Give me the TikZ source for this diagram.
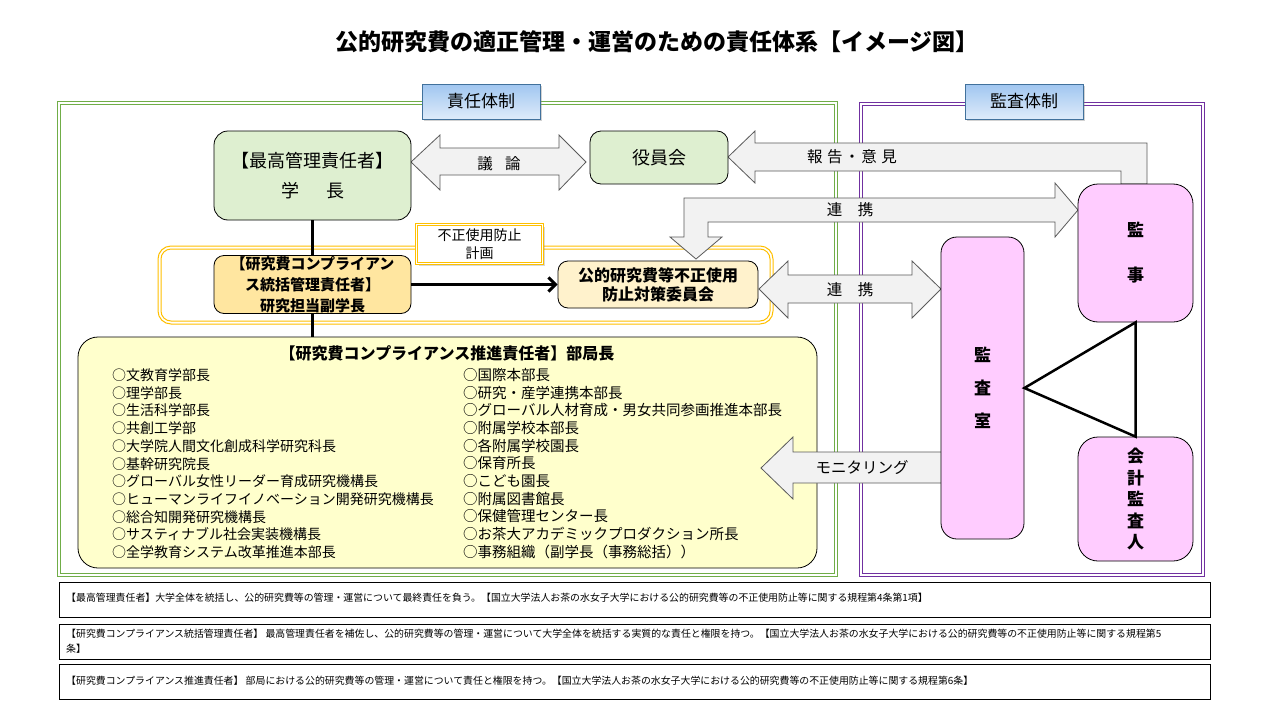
\documentclass[tikz,border=0pt]{standalone}
\usepackage{fontspec}
\setmainfont{Noto Sans CJK JP}
\usetikzlibrary{arrows.meta,shadows,calc}
\definecolor{frgreen}{RGB}{112,173,71}
\definecolor{frpurple}{RGB}{112,48,160}
\definecolor{fryellow}{RGB}{255,192,0}
\definecolor{boxgreen}{RGB}{222,239,208}
\definecolor{boxorange}{RGB}{255,230,160}
\definecolor{boxcream}{RGB}{255,242,204}
\definecolor{boxyellow}{RGB}{255,255,204}
\definecolor{boxpink}{RGB}{255,204,255}
\definecolor{arrfill}{RGB}{242,242,242}
\definecolor{arrline}{RGB}{90,90,90}
\definecolor{tagline}{RGB}{65,113,156}
\definecolor{tagtop}{RGB}{160,198,240}
\definecolor{tagbot}{RGB}{222,235,250}
\begin{document}
\begin{tikzpicture}[x=1pt,y=-1pt,
  box/.style={draw=black, line width=0.8pt, rounded corners=14pt, inner sep=0pt, align=center},
  blockarrow/.style={draw=arrline, fill=arrfill, line width=0.8pt},
  tagbox/.style={draw=tagline, line width=1pt, top color=tagtop, bottom color=tagbot,
     minimum width=118pt, minimum height=35pt, inner sep=0pt,
     font=\fontsize{17}{20}\selectfont,
     drop shadow={shadow xshift=2pt, shadow yshift=-2pt, opacity=0.35}},
  conn/.style={line width=2.5pt, draw=black},
  arrtext/.style={font=\fontsize{15.5}{18}\selectfont, inner sep=0pt},
  note/.style={draw=black, line width=0.8pt},
  notetext/.style={anchor=west, inner sep=0pt, font=\fontsize{9.9}{15}\selectfont, align=left},
  listtext/.style={anchor=north west, inner sep=0pt, align=left, font=\fontsize{14.5}{17.7}\selectfont}
]
\useasboundingbox (0,0) rectangle (1280,720);
\fill[white] (0,0) rectangle (1280,720);

% title
\node[font=\fontsize{23}{26}\selectfont\bfseries, inner sep=0pt] (title) at (657,42) {公的研究費の適正管理・運営のための責任体系【イメージ図】};

% frames (double lines)
\draw[frgreen, line width=1pt] (57,101) rectangle (837,576);
\draw[frgreen, line width=1pt] (60,104) rectangle (834,573);
\draw[frpurple, line width=1pt] (859,102) rectangle (1204,576);
\draw[frpurple, line width=1pt] (862,105) rectangle (1201,573);

\node[tagbox] (tag1) at (481,101.5) {責任体制};
\node[tagbox] (tag2) at (1024,101.5) {監査体制};

% plan frame (yellow double)
\draw[fryellow, line width=1pt, rounded corners=13pt] (158,246) rectangle (773,324);
\draw[fryellow, line width=1pt, rounded corners=10pt] (161,249) rectangle (770,321);

% block arrows
\draw[blockarrow] (411,162) -- (440,135) -- (440,148) -- (559,148) -- (559,135) -- (586,162)
   -- (559,190) -- (559,175) -- (440,175) -- (440,190) -- cycle;
\node[arrtext] (t1) at (499,164) {議\hspace{0.8em}論};

\draw[blockarrow] (728,157) -- (755,131) -- (755,143) -- (1147,143) -- (1147,184) -- (1121,184)
   -- (1121,171) -- (755,171) -- (755,183) -- cycle;
\node[arrtext] (t2) at (852,157) {報\hspace{0.3em}告\hspace{0.1em}・\hspace{0.1em}意\hspace{0.3em}見};

\draw[blockarrow] (684,237) -- (684,198) -- (1055,198) -- (1055,183) -- (1078,210) -- (1055,237)
   -- (1055,222) -- (708,222) -- (708,237) -- (722,237) -- (696,259) -- (670,237) -- cycle;
\node[arrtext] (t3) at (850,210) {連\hspace{1em}携};

\draw[blockarrow] (759,289) -- (788,261) -- (788,275) -- (912,275) -- (912,261) -- (941,289)
   -- (912,318) -- (912,303) -- (788,303) -- (788,318) -- cycle;
\node[arrtext] (t4) at (850,290) {連\hspace{1em}携};

% main boxes
\node[box, fill=boxgreen, minimum width=197pt, minimum height=89pt, font=\fontsize{18}{30}\selectfont]
  (chief) at (312.5,175.5) {【最高管理責任者】\\学\hspace{1.5em}長};
\node[box, fill=boxgreen, minimum width=138pt, minimum height=53pt, rounded corners=11pt, font=\fontsize{18}{22}\selectfont]
  (board) at (659,157.5) {役員会};
\node[box, fill=boxorange, minimum width=197pt, minimum height=58pt, rounded corners=10pt, font=\fontsize{15}{21}\selectfont\bfseries]
  (comp) at (312.5,284.5) {【研究費コンプライアン\\ス統括管理責任者】\\研究担当副学長};
\node[box, fill=boxcream, minimum width=200pt, minimum height=47pt, rounded corners=10pt, font=\fontsize{16}{19}\selectfont\bfseries]
  (committee) at (658,284.5) {公的研究費等不正使用\\防止対策委員会};

% plan label
\node[draw=fryellow, double=white, double distance=1.2pt, line width=0.8pt, fill=white,
  minimum width=126pt, minimum height=39pt, inner sep=0pt, align=center,
  font=\fontsize{14}{18}\selectfont,
  drop shadow={shadow xshift=2pt, shadow yshift=-2pt, opacity=0.3}]
  (plan) at (479.5,244) {不正使用防止\\計画};

% bukyoku box
\node[box, fill=boxyellow, minimum width=739pt, minimum height=231pt, rounded corners=20pt]
  (bukyoku) at (447.5,452.5) {};
\node[font=\fontsize{16}{19}\selectfont\bfseries, inner sep=0pt] (bktitle) at (447,353) {【研究費コンプライアンス推進責任者】部局長};
\node[listtext, font=\fontsize{14}{17.7}\selectfont] (listL) at (112,368.5) {○文教育学部長\\○理学部長\\○生活科学部長\\○共創工学部\\○大学院人間文化創成科学研究科長\\○基幹研究院長\\○グローバル女性リーダー育成研究機構長\\○ヒューマンライフイノベーション開発研究機構長\\○総合知開発研究機構長\\○サスティナブル社会実装機構長\\○全学教育システム改革推進本部長};
\node[listtext] (listR) at (463,368) {○国際本部長\\○研究・産学連携本部長\\○グローバル人材育成・男女共同参画推進本部長\\○附属学校本部長\\○各附属学校園長\\○保育所長\\○こども園長\\○附属図書館長\\○保健管理センター長\\○お茶大アカデミックプロダクション所長\\○事務組織（副学長（事務総括））};

% monitoring arrow
\draw[blockarrow] (761,468) -- (793,437) -- (793,452) -- (942,452) -- (942,483) -- (793,483) -- (793,499) -- cycle;
\node[arrtext] (t5) at (862,468) {モニタリング};

% connectors
\draw[conn] (chief.south) -- (comp.north);
\draw[conn] (comp.south) -- (comp.south |- bukyoku.north);
\draw[line width=3pt, -{Straight Barb[length=7pt,width=14pt]}] (comp.east) -- (committee.west);

% audit boxes
\node[box, fill=boxpink, minimum width=83pt, minimum height=302pt, rounded corners=16pt, font=\fontsize{17}{33}\selectfont\bfseries]
  (shitsu) at (982.5,388) {監\\査\\室};
\node[box, fill=boxpink, minimum width=115pt, minimum height=138pt, rounded corners=20pt, font=\fontsize{17}{45}\selectfont\bfseries]
  (kanji) at (1135.5,253) {監\\事};
\node[box, fill=boxpink, minimum width=115pt, minimum height=124pt, rounded corners=20pt, font=\fontsize{17}{21.5}\selectfont\bfseries]
  (kaikei) at (1135.5,499) {会\\計\\監\\査\\人};
\draw[conn, line join=miter] (shitsu.east) -- (kanji.south) -- (kaikei.north) -- cycle;

% notes
\draw[note] (59,582) rectangle (1210,617);
\draw[note] (59,624) rectangle (1210,659);
\draw[note] (59,664) rectangle (1210,699);
\node[notetext] (n1) at (66,598) {【最高管理責任者】大学全体を統括し、公的研究費等の管理・運営について最終責任を負う。【国立大学法人お茶の水女子大学における公的研究費等の不正使用防止等に関する規程第4条第1項】};
\node[notetext, anchor=north west] (n2) at (66,629) {【研究費コンプライアンス統括管理責任者】 最高管理責任者を補佐し、公的研究費等の管理・運営について大学全体を統括する実質的な責任と権限を持つ。【国立大学法人お茶の水女子大学における公的研究費等の不正使用防止等に関する規程第5\\条】};
\node[notetext] (n3) at (66,681) {【研究費コンプライアンス推進責任者】 部局における公的研究費等の管理・運営について責任と権限を持つ。【国立大学法人お茶の水女子大学における公的研究費等の不正使用防止等に関する規程第6条】};
\end{tikzpicture}
\end{document}
